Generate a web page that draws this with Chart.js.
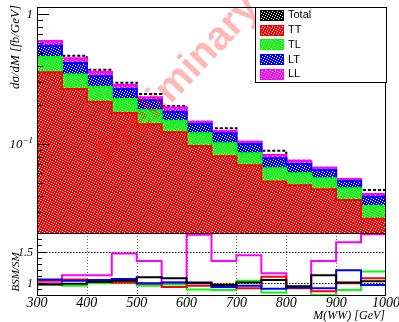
<!DOCTYPE html>
<html>
<head>
<meta charset="utf-8">
<script src="https://cdn.jsdelivr.net/npm/chart.js@4/dist/chart.umd.min.js"></script>
<style>
  html, body { margin: 0; padding: 0; background: #fff; }
  #wrap { position: relative; width: 399px; height: 322px; }
  #wrap canvas { position: absolute; left: 0; top: 0; }
</style>
</head>
<body>
<div id="wrap">
  <canvas id="spectrum" width="399" height="322"></canvas>
  <canvas id="ratio" width="399" height="322"></canvas>
</div>
<script>
// Bin edges of M(WW) in GeV
const massEdges = [300, 350, 400, 450, 500, 550, 600, 650, 700, 750, 800, 850, 900, 950, 1000];

// dσ/dM per polarisation component [fb/GeV]
const sigmaTT = [0.358, 0.266, 0.213, 0.174, 0.143, 0.124, 0.097, 0.081, 0.069, 0.0517, 0.0484, 0.0451, 0.0373, 0.0268];
const sigmaTL = [0.111, 0.079, 0.063, 0.049, 0.040, 0.028, 0.0246, 0.0208, 0.0163, 0.0137, 0.0114, 0.0097, 0.0086, 0.0067];
const sigmaLT = [0.104, 0.077, 0.0575, 0.043, 0.035, 0.026, 0.0217, 0.0198, 0.0152, 0.0126, 0.0107, 0.0086, 0.0063, 0.0060];
const sigmaLL = [0.050, 0.037, 0.028, 0.0194, 0.012, 0.0146, 0.0057, 0.0050, 0.0042, 0.0047, 0.0043, 0.0027, 0.0019, 0.0020];
const sigmaTotal = [0.623, 0.480, 0.375, 0.298, 0.244, 0.197, 0.149, 0.133, 0.1047, 0.0893, 0.0748, 0.0661, 0.0541, 0.0445];

// BSM/SM ratios per component
const ratioTotal = [0.97, 0.98, 1.015, 1.03, 1.085, 1.07, 1.00, 0.96, 1.00, 1.04, 0.94, 1.12, 1.00, 1.02];
const ratioTT    = [1.03, 1.05, 1.01, 1.00, 0.98, 0.93, 0.95, 0.97, 0.91, 1.095, 0.91, 0.86, 0.99, 1.07];
const ratioTL    = [0.97, 0.95, 0.99, 1.00, 0.95, 0.97, 0.89, 0.88, 1.03, 0.84, 0.92, 0.80, 0.88, 1.18];
const ratioLT    = [1.05, 1.03, 1.04, 1.06, 0.99, 1.00, 0.99, 0.93, 0.95, 0.90, 0.92, 0.91, 1.20, 0.96];
const ratioLL    = [0.99, 1.12, 1.12, 1.47, 1.35, 1.00, 1.77, 1.35, 1.44, 1.15, 0.92, 1.35, 1.65, 1.78];

// Axis ticks and labels
const xTickValues = [300, 400, 500, 600, 700, 800, 900, 1000];
const xTickLabels = ['300', '400', '500', '600', '700', '800', '900', '1000'];
const xGridValues = [400, 500, 600, 700, 800, 900];
const yTickValues = [1, 0.1];
const yTickBases = ['1', '10'];
const yTickExponents = ['', '\u22121'];
const ratioTickValues = [1, 1.5];
const ratioTickLabels = ['1', '1.5'];
const legendLabels = ['Total', 'TT', 'TL', 'LT', 'LL'];

const COLORS = { Total: '#000000', TT: '#ff0000', TL: '#00ff00', LT: '#0000ff', LL: '#ff00ff' };
const SERIF = '"Liberation Serif", "DejaVu Serif", serif';
const SANS = '"Liberation Sans", Arial, sans-serif';

// dotted fill pattern (knight-move lattice of white dots)
function hatch(color) {
  const tile = document.createElement('canvas');
  tile.width = 5; tile.height = 5;
  const g = tile.getContext('2d');
  g.fillStyle = color; g.fillRect(0, 0, 5, 5);
  g.fillStyle = '#ffffff';
  [[0, 0], [2, 1], [4, 2], [1, 3], [3, 4]].forEach(([x, y]) => g.fillRect(x, y, 1, 1));
  return g.createPattern(tile, 'repeat');
}

const centers = massEdges.slice(0, -1).map((e, i) => (e + massEdges[i + 1]) / 2);
const cumulate = (...parts) => parts[0].map((_, i) => parts.reduce((s, p) => s + p[i], 0));
const cumTT = cumulate(sigmaTT);
const cumTL = cumulate(sigmaTT, sigmaTL);
const cumLT = cumulate(sigmaTT, sigmaTL, sigmaLT);
const cumLL = cumulate(sigmaTT, sigmaTL, sigmaLT, sigmaLL);

function barSet(label, cum, color, order) {
  return {
    type: 'bar', label, order,
    data: centers.map((x, i) => ({ x, y: cum[i] })),
    backgroundColor: hatch(color), borderWidth: 0,
    barPercentage: 1, categoryPercentage: 1, grouped: false
  };
}
function stepSet(label, vals, color, order, dash) {
  return {
    type: 'line', label, order,
    data: massEdges.map((x, i) => ({ x, y: vals[Math.min(i, vals.length - 1)] })),
    borderColor: color, borderWidth: 2, borderDash: dash || [],
    pointRadius: 0, stepped: true, fill: false
  };
}

function drawFrame(ctx, a) {
  ctx.save();
  ctx.strokeStyle = '#000'; ctx.lineWidth = 1;
  ctx.strokeRect(Math.round(a.left) + 0.5, Math.round(a.top) + 0.5,
                 Math.round(a.right - a.left) - 1, Math.round(a.bottom - a.top));
  ctx.restore();
}
function hTick(ctx, x, y, len) {
  ctx.beginPath(); ctx.moveTo(x, Math.round(y) + 0.5); ctx.lineTo(x + len, Math.round(y) + 0.5); ctx.stroke();
}

const spectrumDecor = {
  id: 'spectrumDecor',
  afterDatasetsDraw(chart) {
    const { ctx, chartArea: a, scales: { y } } = chart;
    // watermark
    ctx.save();
    ctx.translate(178, 81);
    ctx.rotate(-46.5 * Math.PI / 180);
    ctx.font = 'bold 40px ' + SANS;
    ctx.fillStyle = 'rgba(255, 0, 0, 0.28)';
    ctx.textAlign = 'center'; ctx.textBaseline = 'middle';
    ctx.fillText('Preliminary', 0, 0);
    ctx.restore();

    drawFrame(ctx, a);

    // log-axis ticks
    ctx.save();
    ctx.strokeStyle = '#000'; ctx.lineWidth = 1;
    for (let k = -2; k <= 0; k++) {
      for (let m = 1; m <= 9; m++) {
        const v = m * Math.pow(10, k);
        if (v < y.min || v > y.max) continue;
        hTick(ctx, a.left, y.getPixelForValue(v), m === 1 ? 12 : 6);
      }
    }
    // tick labels
    ctx.fillStyle = '#000';
    ctx.textBaseline = 'alphabetic';
    yTickValues.forEach((v, i) => {
      const py = y.getPixelForValue(v);
      const right = a.left - 4;
      ctx.font = 'italic 9px ' + SERIF;
      const supW = yTickExponents[i] ? ctx.measureText(yTickExponents[i]).width : 0;
      if (supW) { ctx.textAlign = 'left'; ctx.fillText(yTickExponents[i], right - supW, py - 1); }
      ctx.font = 'italic 13px ' + SERIF;
      ctx.textAlign = 'right';
      ctx.fillText(yTickBases[i], right - supW, py + 4);
    });
    // axis title
    ctx.save();
    ctx.translate(19, 5);
    ctx.rotate(-Math.PI / 2);
    ctx.font = 'italic 13px ' + SERIF;
    ctx.textAlign = 'right';
    ctx.fillText('d\u03c3/dM [fb/GeV]', 0, 0);
    ctx.restore();

    // legend
    const lx = 255, ly = 7, lw = 131, lh = 75;
    ctx.fillStyle = '#fff';
    ctx.fillRect(lx, ly, lw, lh);
    ctx.strokeStyle = '#000';
    ctx.strokeRect(lx + 0.5, ly + 0.5, lw, lh);
    legendLabels.forEach((lab, i) => {
      const cy = 14.7 + i * 14.8;
      ctx.fillStyle = hatch(COLORS[lab]);
      ctx.fillRect(260, Math.round(cy - 5), 24, 11);
      ctx.strokeStyle = COLORS[lab];
      ctx.strokeRect(260.5, Math.round(cy - 5) + 0.5, 23, 10);
      ctx.fillStyle = '#000';
      ctx.font = '11px ' + SANS;
      ctx.textAlign = 'left'; ctx.textBaseline = 'middle';
      ctx.fillText(lab, 288, cy + 0.5);
    });
    ctx.restore();
  }
};

new Chart(document.getElementById('spectrum'), {
  type: 'bar',
  data: {
    datasets: [
      stepSet('TT', cumTT, COLORS.TT, 1),
      stepSet('TL', cumTL, COLORS.TL, 2),
      stepSet('LT', cumLT, COLORS.LT, 3),
      stepSet('LL', cumLL, COLORS.LL, 4),
      barSet('TT', cumTT, COLORS.TT, 5),
      barSet('TL', cumTL, COLORS.TL, 6),
      barSet('LT', cumLT, COLORS.LT, 7),
      barSet('LL', cumLL, COLORS.LL, 8),
      stepSet('Total', sigmaTotal, COLORS.Total, 9, [3, 2])
    ]
  },
  options: {
    responsive: false, animation: false, events: [],
    layout: { padding: { left: 37, right: 13, top: 7, bottom: 89 } },
    plugins: { legend: { display: false }, tooltip: { enabled: false } },
    scales: {
      x: { type: 'linear', min: 300, max: 1000, offset: false, display: false },
      y: { type: 'logarithmic', min: 0.0208, max: 1.138, display: false }
    }
  },
  plugins: [spectrumDecor]
});

const ratioDecor = {
  id: 'ratioDecor',
  beforeDatasetsDraw(chart) {
    const { ctx, chartArea: a, scales: { x, y } } = chart;
    ctx.save();
    ctx.lineWidth = 1;
    ctx.strokeStyle = '#666';
    ctx.setLineDash([1, 2]);
    xGridValues.forEach(v => {
      const px = Math.round(x.getPixelForValue(v)) + 0.5;
      ctx.beginPath(); ctx.moveTo(px, a.top); ctx.lineTo(px, a.bottom); ctx.stroke();
    });
    ctx.strokeStyle = '#000';
    ctx.setLineDash([1.5, 1.5]);
    ratioTickValues.forEach(v => {
      const py = Math.round(y.getPixelForValue(v)) + 0.5;
      ctx.beginPath(); ctx.moveTo(a.left, py); ctx.lineTo(a.right, py); ctx.stroke();
    });
    ctx.restore();
  },
  afterDatasetsDraw(chart) {
    const { ctx, chartArea: a, scales: { x, y } } = chart;
    drawFrame(ctx, a);
    ctx.save();
    ctx.strokeStyle = '#000'; ctx.lineWidth = 1;
    for (let v = 0.8; v <= 1.8001; v += 0.1) {
      const major = Math.abs(v - 1) < 1e-6 || Math.abs(v - 1.5) < 1e-6;
      hTick(ctx, a.left, y.getPixelForValue(v), major ? 10 : 5);
    }
    ctx.fillStyle = '#000';
    ctx.font = 'italic 12px ' + SERIF;
    ctx.textAlign = 'right'; ctx.textBaseline = 'alphabetic';
    ratioTickValues.forEach((v, i) => ctx.fillText(ratioTickLabels[i], a.left - 4, y.getPixelForValue(v) + 4));
    ctx.font = 'italic 14px ' + SERIF;
    ctx.textAlign = 'center';
    xTickValues.forEach((v, i) => ctx.fillText(xTickLabels[i], x.getPixelForValue(v), 307));
    ctx.font = 'italic 12px ' + SERIF;
    ctx.textAlign = 'right';
    ctx.fillText('M(WW) [GeV]', 385, 319);
    ctx.save();
    ctx.translate(19, 272);
    ctx.rotate(-Math.PI / 2);
    ctx.textAlign = 'center';
    ctx.font = 'italic 11px ' + SERIF;
    ctx.fillText('BSM/SM', 0, 0);
    ctx.restore();
    ctx.restore();
  }
};

new Chart(document.getElementById('ratio'), {
  type: 'line',
  data: {
    datasets: [
      stepSet('Total', ratioTotal, COLORS.Total, 1),
      stepSet('LT', ratioLT, COLORS.LT, 2),
      stepSet('TT', ratioTT, COLORS.TT, 3),
      stepSet('TL', ratioTL, COLORS.TL, 4),
      stepSet('LL', ratioLL, COLORS.LL, 5)
    ]
  },
  options: {
    responsive: false, animation: false, events: [],
    layout: { padding: { left: 37, right: 13, top: 233, bottom: 27 } },
    plugins: { legend: { display: false }, tooltip: { enabled: false } },
    scales: {
      x: { type: 'linear', min: 300, max: 1000, display: false },
      y: { type: 'linear', min: 0.8, max: 1.8, display: false }
    }
  },
  plugins: [ratioDecor]
});
</script>
</body>
</html>
